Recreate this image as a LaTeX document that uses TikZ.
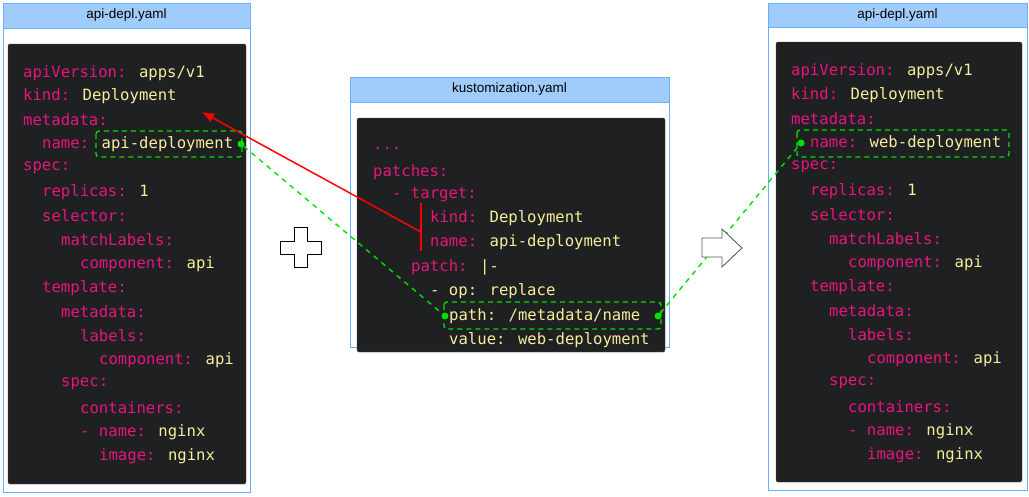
\documentclass[tikz,border=0pt]{standalone}
\usepackage{fontspec}
\setmainfont{Liberation Sans}
\newfontfamily\codefont{DejaVu Sans Mono}
\usetikzlibrary{arrows.meta}
\definecolor{keyc}{HTML}{E8157C}
\definecolor{valc}{HTML}{F5EE9A}
\definecolor{darkbg}{HTML}{1F2022}
\definecolor{titlef}{HTML}{9FCCFB}
\definecolor{titled}{HTML}{66B2FF}
\definecolor{grn}{HTML}{00E000}
\newcommand{\K}[1]{\textcolor{keyc}{#1}}
\newcommand{\V}[1]{\textcolor{valc}{#1}}
\tikzset{
 panel/.style={draw=titled,fill=white,line width=0.8pt},
 tbar/.style={draw=titled,fill=titlef,line width=0.8pt},
 dark/.style={fill=darkbg,draw=gray!60!black,rounded corners=2pt},
 code/.style={anchor=west,inner sep=0pt,font=\codefont\fontsize{15.6}{18}\selectfont},
 ttl/.style={font=\fontsize{13.5}{15}\selectfont},
 gbox/.style={draw=grn,line width=1.4pt,dash pattern=on 5pt off 4pt,rounded corners=3pt},
 gline/.style={draw=grn,line width=1.4pt,dash pattern=on 5pt off 5pt},
 gdot/.style={circle,fill=grn,inner sep=0pt,minimum size=7pt},
}
\begin{document}
\begin{tikzpicture}[x=1pt,y=-1pt]
\useasboundingbox (0,0) rectangle (1029,496);
% left panel
\draw[panel] (3,3) rectangle (250,492);
\draw[tbar] (3,3) rectangle (250,28);
\node[ttl] (t1) at (126.5,15.5) {api-depl.yaml};
\draw[dark] (8,44) rectangle (246,484);
% middle panel
\draw[panel] (350,77) rectangle (669,347);
\draw[tbar] (350,77) rectangle (669,102);
\node[ttl] (t2) at (509.5,89.5) {kustomization.yaml};
\draw[dark] (357,118) rectangle (665,352);
% right panel
\draw[panel] (768,3) rectangle (1027,490);
\draw[tbar] (768,3) rectangle (1027,27);
\node[ttl] (t3) at (897.5,15) {api-depl.yaml};
\draw[dark] (776,42) rectangle (1022,482);
% left code
\foreach \y/\ind/\txt [count=\i] in {
73/0/{\K{apiVersion:} \V{apps/v1}},
96/0/{\K{kind:} \V{Deployment}},
120/0/{\K{metadata:}},
144/2/{\K{name:} \V{api-deployment}},
168/0/{\K{spec:}},
192/2/{\K{replicas:} \V{1}},
216/2/{\K{selector:}},
240/4/{\K{matchLabels:}},
264/6/{\K{component:} \V{api}},
288/2/{\K{template:}},
312/4/{\K{metadata:}},
336/6/{\K{labels:}},
360/8/{\K{component:} \V{api}},
384/4/{\K{spec:}},
408/6/{\K{containers:}},
432/6/{\K{- name:} \V{nginx}},
456/8/{\K{image:} \V{nginx}}}
 \node[code] (l\i) at (23+\ind*9.5,\y) {\txt};
% right code
\foreach \y/\ind/\txt [count=\i] in {
71/0/{\K{apiVersion:} \V{apps/v1}},
95/0/{\K{kind:} \V{Deployment}},
119/0/{\K{metadata:}},
143/2/{\K{name:} \V{web-deployment}},
167/0/{\K{spec:}},
191/2/{\K{replicas:} \V{1}},
215/2/{\K{selector:}},
239/4/{\K{matchLabels:}},
263/6/{\K{component:} \V{api}},
287/2/{\K{template:}},
311/4/{\K{metadata:}},
335/6/{\K{labels:}},
359/8/{\K{component:} \V{api}},
383/4/{\K{spec:}},
407/6/{\K{containers:}},
431/6/{\K{- name:} \V{nginx}},
455/8/{\K{image:} \V{nginx}}}
 \node[code] (r\i) at (791+\ind*9.5,\y) {\txt};
% middle code
\foreach \y/\ind/\txt [count=\i] in {
148/0/{\K{...}},
172/0/{\K{patches:}},
195/2/{\K{- target:}},
218/6/{\K{kind:} \V{Deployment}},
242/6/{\K{name:} \V{api-deployment}},
267/4/{\K{patch:} \V{|-}},
291/6/{\V{- op: replace}},
316/8/{\V{path: /metadata/name}},
340/8/{\V{value: web-deployment}}}
 \node[code] (m\i) at (373+\ind*9.5,\y) {\txt};
% green boxes
\draw[gbox] (96,131) rectangle (242,157);
\draw[gbox] (797,130) rectangle (1009,157);
\draw[gbox] (444,302) rectangle (661,329);
\node[gdot] (d1) at (241,144) {};
\node[gdot] (d2) at (445,316) {};
\node[gdot] (d3) at (658,316) {};
\node[gdot] (d4) at (801,143) {};
\draw[gline] (d1) -- (d2);
\draw[gline] (d3) -- (d4);
% red
\draw[red,line width=1.5pt] (421,203) -- (421,251);
\coordinate (rt) at (421,232);
\coordinate (rh) at (202,112);
\draw[red,line width=1.5pt,-{Latex[length=12pt,width=10pt]}] (rt) -- (rh);
% plus
\draw[fill=white,line width=0.9pt] (294,227) -- (307,227) -- (307,241) -- (321,241) -- (321,254) -- (307,254) -- (307,267) -- (294,267) -- (294,254) -- (280,254) -- (280,241) -- (294,241) -- cycle;
% arrow
\draw[fill=white,draw=gray!70!black,line width=0.9pt] (702,238) -- (722,238) -- (722,229) -- (742,248) -- (722,267) -- (722,257) -- (702,257) -- cycle;
\end{tikzpicture}
\end{document}
